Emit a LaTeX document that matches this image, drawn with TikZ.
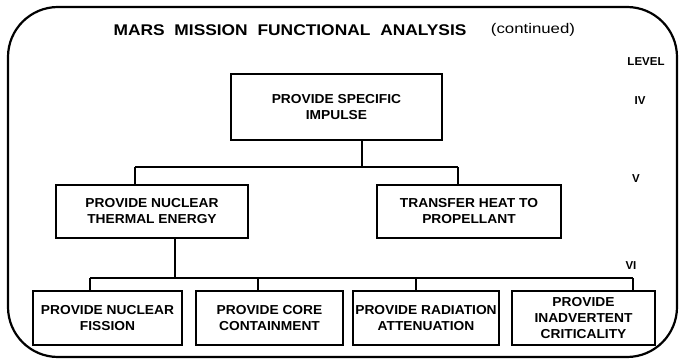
\documentclass[tikz,border=0pt]{standalone}
\usepackage{fontspec}
\setmainfont{Liberation Sans}
\newfontfamily\titlefont{Liberation Sans}[FakeStretch=1.12]
\newfontfamily\contfont{Liberation Sans}[FakeStretch=1.2]
\newfontfamily\boxfont{Liberation Sans}[FakeStretch=1.06]
\begin{document}
\begin{tikzpicture}[x=1pt,y=-1pt,
  fbox/.style={draw, line width=1.6pt, align=center, inner sep=0pt,
    font=\boxfont\bfseries\fontsize{13}{16}\selectfont},
  lvl/.style={font=\bfseries\fontsize{11.5}{13}\selectfont, inner sep=0pt},
  conn/.style={line width=1.5pt}]
\useasboundingbox (0,0) rectangle (681,361);
\draw[line width=2.2pt, rounded corners=50pt] (8,7) rectangle (677,357);
% title
\node[inner sep=0pt, font=\titlefont\bfseries\fontsize{15.5}{18}\selectfont] (title) at (290,30) {MARS\hspace{5pt} MISSION\hspace{5pt} FUNCTIONAL\hspace{5pt} ANALYSIS};
\node[inner sep=0pt, font=\contfont\fontsize{14}{16}\selectfont] (cont) at (533,30) {(continued)};
% levels
\node[lvl] (lev) at (646,62) {LEVEL};
\node[lvl] (l4) at (640,101) {IV};
\node[lvl] (l5) at (636,179) {V};
\node[lvl] (l6) at (631,266) {VI};
% boxes
\node[fbox, line width=2.4pt, minimum width=211pt, minimum height=66pt] (top) at (336.5,107) {PROVIDE SPECIFIC\\IMPULSE};
\node[fbox, minimum width=192pt, minimum height=53pt] (thermal) at (152,211.5) {PROVIDE NUCLEAR\\THERMAL ENERGY};
\node[fbox, minimum width=184pt, minimum height=53pt] (heat) at (469,211.5) {TRANSFER HEAT TO\\PROPELLANT};
\node[fbox, line width=2pt, minimum width=149pt, minimum height=54pt] (fission) at (107.5,318) {PROVIDE NUCLEAR\\FISSION};
\node[fbox, line width=2pt, minimum width=147pt, minimum height=54pt] (core) at (269.5,318) {PROVIDE CORE\\CONTAINMENT};
\node[fbox, line width=2pt, minimum width=146pt, minimum height=54pt] (rad) at (426,318) {PROVIDE RADIATION\\ATTENUATION};
\node[fbox, line width=2pt, minimum width=143pt, minimum height=54pt] (crit) at (583.5,318) {PROVIDE\\INADVERTENT\\CRITICALITY};
% connectors level IV -> V
\coordinate (j1) at (362,167);
\coordinate (j1l) at (135,167);
\coordinate (j1r) at (458,167);
\draw[conn, line width=2pt] (top.south -| j1) -- (j1);
\draw[conn] (j1l) -- (j1r);
\draw[conn] (j1l) -- (thermal.north -| j1l);
\draw[conn] (j1r) -- (heat.north -| j1r);
% connectors level V -> VI
\coordinate (j2) at (175,278);
\coordinate (a1) at (90,278);
\coordinate (a2) at (258,278);
\coordinate (a3) at (416,278);
\coordinate (a4) at (633,278);
\draw[conn] (thermal.south -| j2) -- (j2);
\draw[conn] (a1) -- (a4);
\draw[conn] (a1) -- (fission.north -| a1);
\draw[conn] (a2) -- (core.north -| a2);
\draw[conn] (a3) -- (rad.north -| a3);
\draw[conn] (a4) -- (crit.north -| a4);
\end{tikzpicture}
\end{document}
